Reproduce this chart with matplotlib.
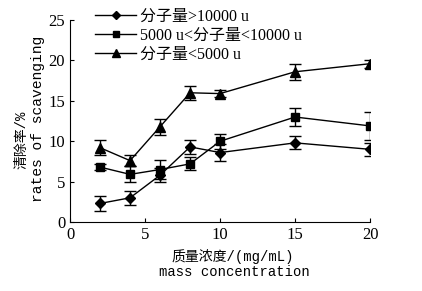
import matplotlib.pyplot as plt
from matplotlib.lines import Line2D

plt.rcParams['font.family'] = ['Liberation Serif', 'Noto Sans CJK SC']

# data
conc = [2, 4, 6, 8, 10, 15, 20]
big = [2.3, 3.0, 5.8, 9.3, 8.6, 9.8, 9.0]
big_err = [0.9, 0.9, 0.9, 0.9, 1.0, 0.8, 0.8]
mid = [6.8, 5.9, 6.5, 7.2, 10.0, 13.0, 11.9]
mid_err = [0.4, 1.0, 1.2, 0.8, 0.9, 1.1, 1.7]
small = [9.2, 7.6, 11.8, 16.0, 15.9, 18.6, 19.6]
small_err = [0.9, 0.7, 1.0, 0.9, 0.4, 1.0, 0.5]
labels = ['分子量>10000 u', '5000 u<分子量<10000 u', '分子量<5000 u']

fig = plt.figure(figsize=(4.22, 2.91), dpi=100)
ax = fig.add_axes([0.166, 0.237, 0.711, 0.694])

kw = dict(color='black', lw=1.0, capsize=4, elinewidth=1.0, capthick=1.0)
ax.errorbar(conc, big, yerr=big_err, marker='D', ms=5, **kw)
ax.errorbar(conc, mid, yerr=mid_err, marker='s', ms=5.5, **kw)
ax.errorbar(conc, small, yerr=small_err, marker='^', ms=7, **kw)

ax.set_xlim(0, 20)
ax.set_ylim(0, 25)
ax.set_xticks([0, 5, 10, 15, 20])
ax.set_yticks([0, 5, 10, 15, 20, 25])
ax.spines['top'].set_visible(False)
ax.spines['right'].set_visible(False)
ax.tick_params(direction='in', labelsize=12, length=3)

mono = ['Liberation Mono', 'Noto Sans CJK SC']
fig.text(0.052, 0.52, '清除率/%', rotation=90, ha='center', va='center',
         fontsize=10, family=mono)
fig.text(0.090, 0.59, 'rates of scavenging', rotation=90, ha='center',
         va='center', fontsize=10.5, family=mono)
fig.text(0.552, 0.117, '质量浓度/(mg/mL)', ha='center', va='center',
         fontsize=10, family=mono)
fig.text(0.555, 0.065, 'mass concentration', ha='center', va='center',
         fontsize=10, family=mono)

# legend handles without the error bars
handles = [Line2D([], [], color='black', lw=1.0, marker='D', ms=4),
           Line2D([], [], color='black', lw=1.0, marker='s', ms=4),
           Line2D([], [], color='black', lw=1.0, marker='^', ms=6)]
ax.legend(handles, labels, loc='upper left', bbox_to_anchor=(0.083, 1.055),
          frameon=False, handlelength=2.6, handletextpad=0.2,
          labelspacing=0.18, borderpad=0, borderaxespad=0,
          prop={'family': ['Liberation Serif', 'Noto Sans CJK SC'], 'size': 11.5})

fig.savefig('out.png', dpi=100)
